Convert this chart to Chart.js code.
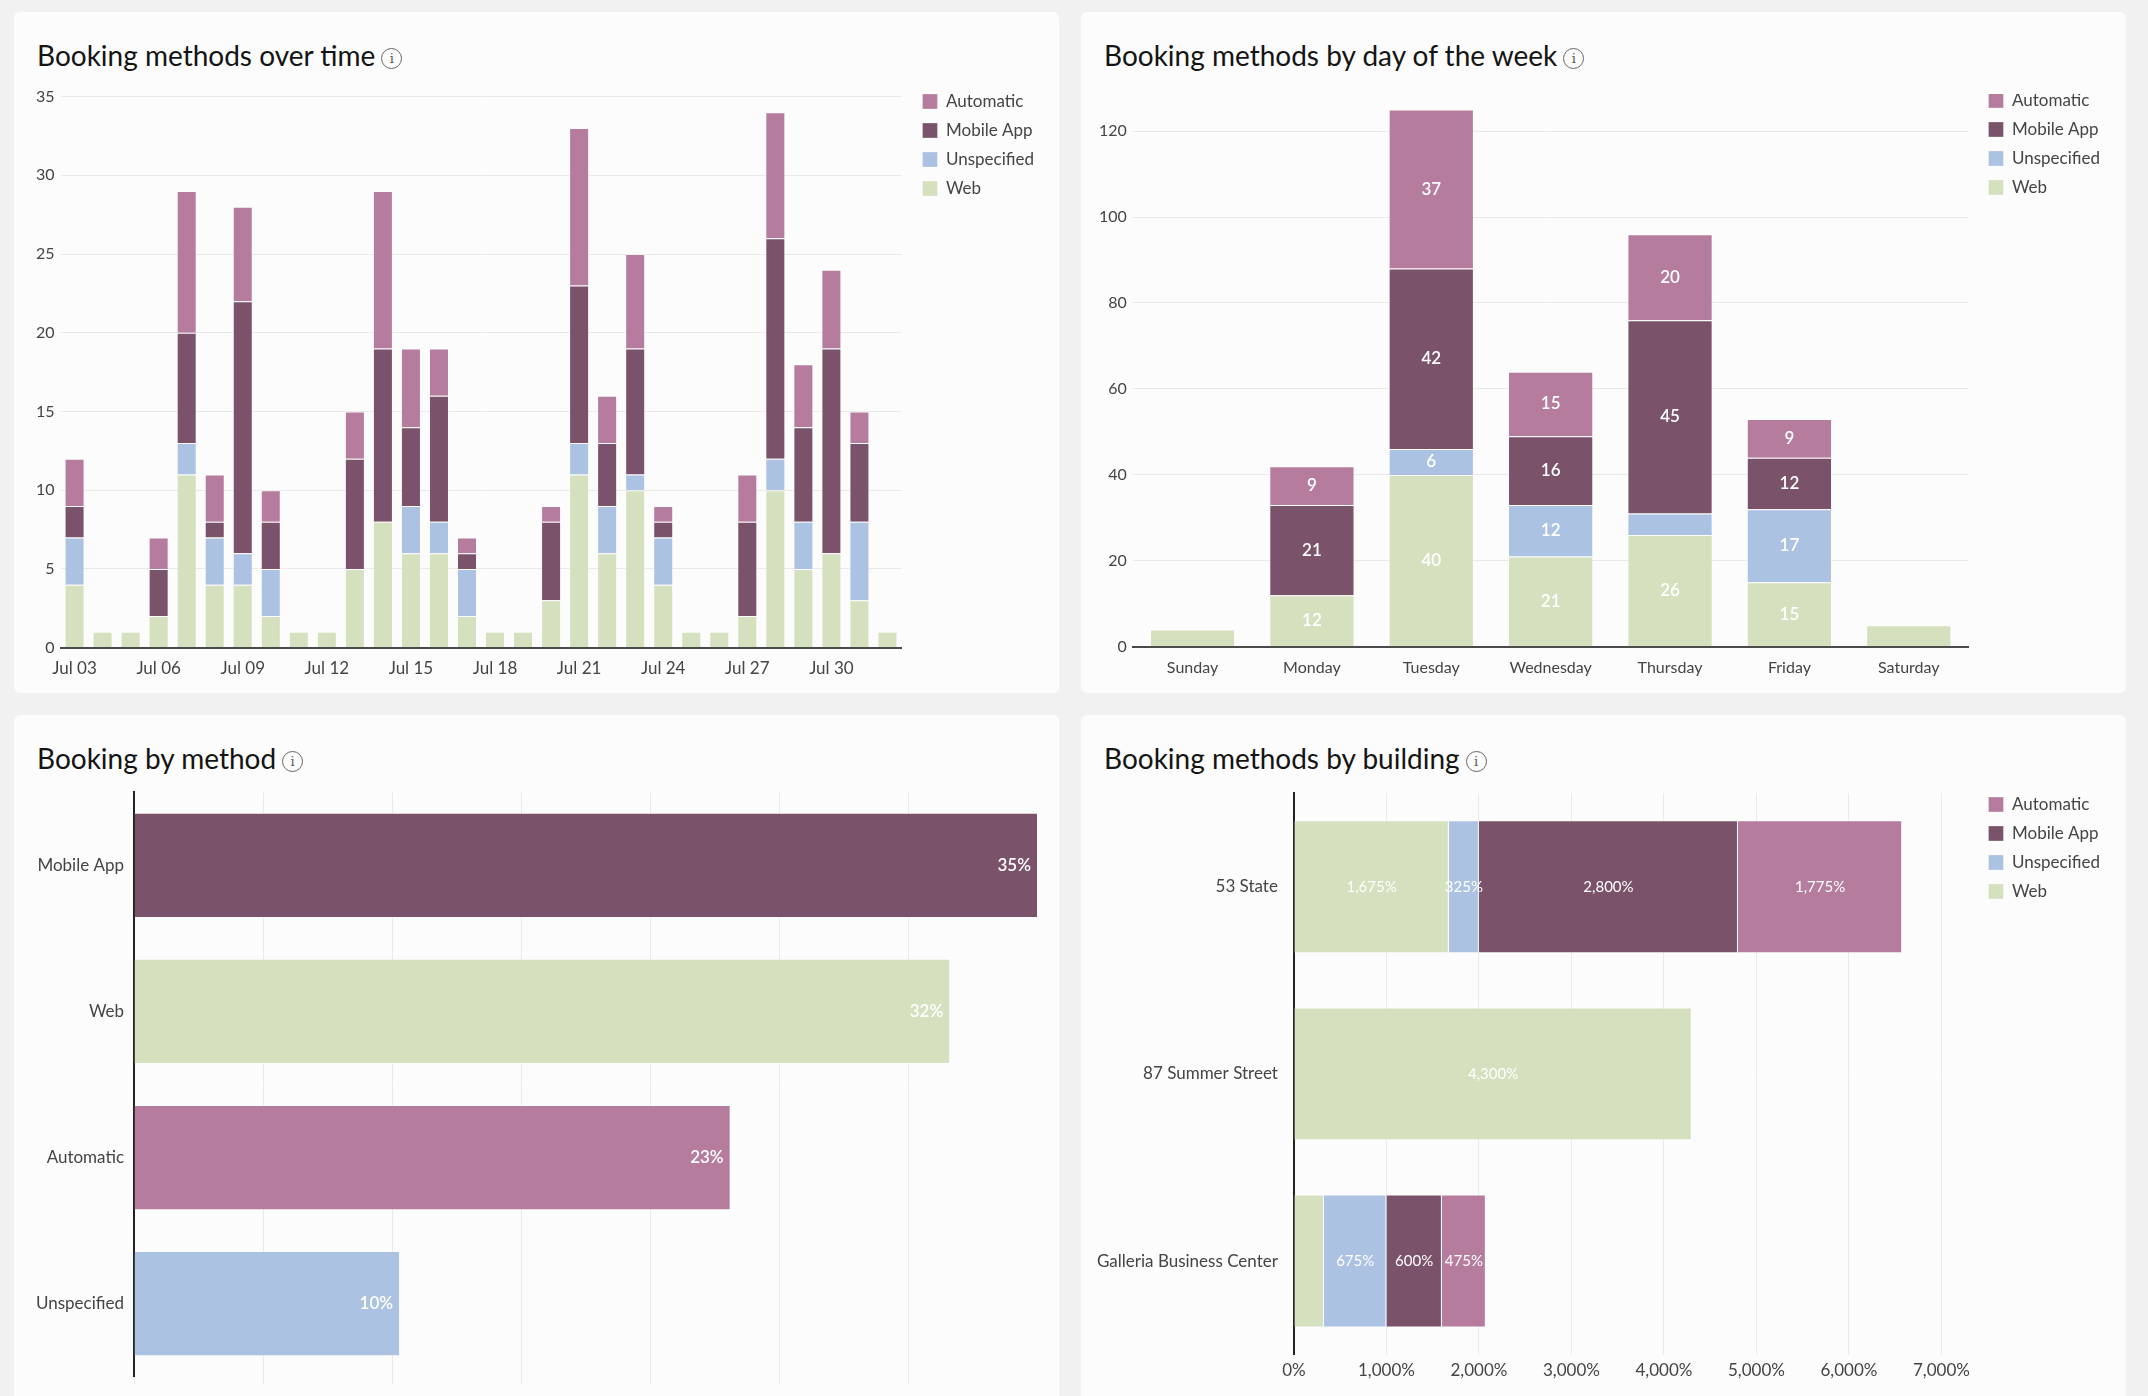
<!DOCTYPE html>
<html lang="en">
<head>
<meta charset="UTF-8">
<title>Booking methods</title>
<script src="https://cdn.jsdelivr.net/npm/chart.js"></script>
<style>
    body {
        margin: 0;
        width: 2148px;
        height: 1396px;
        overflow: hidden;
        position: relative;
        background: #f1f1f1;
        font-family: Lato, "Open Sans", sans-serif;
    }
    .panel {
        position: absolute;
        width: 1045px;
        background: #fcfcfc;
        border-radius: 6px;
    }
    .title {
        position: absolute;
        left: 23px;
        top: 27px;
        font-size: 28px;
        line-height: 32px;
        color: #141414;
        white-space: nowrap;
    }
    .info {
        display: inline-block;
        width: 19px;
        height: 19px;
        margin-left: 6px;
        border: 1.5px solid #666;
        border-radius: 50%;
        font-size: 13px;
        line-height: 19px;
        text-align: center;
        color: #555;
        vertical-align: 3px;
        font-family: "DejaVu Serif", serif;
    }
    .box {
        position: absolute;
    }
</style>
</head>
<body>
    <div class="panel" style="left:14px; top:12px; height:681px;">
        <div class="title">Booking methods over time<span class="info">i</span></div>
        <div class="box" style="left:16px; top:69px; width:1014px; height:601px;"><canvas id="overTime"></canvas></div>
    </div>
    <div class="panel" style="left:1081px; top:12px; height:681px;">
        <div class="title">Booking methods by day of the week<span class="info">i</span></div>
        <div class="box" style="left:12px; top:82px; width:1017px; height:586px;"><canvas id="byDay"></canvas></div>
    </div>
    <div class="panel" style="left:14px; top:715px; height:700px;">
        <div class="title">Booking by method<span class="info">i</span></div>
        <div class="box" style="left:20px; top:65px; width:1004px; height:609px;"><canvas id="byMethod"></canvas></div>
    </div>
    <div class="panel" style="left:1081px; top:715px; height:700px;">
        <div class="title">Booking methods by building<span class="info">i</span></div>
        <div class="box" style="left:8px; top:60px; width:1021px; height:612px;"><canvas id="byBuilding"></canvas></div>
    </div>

<script>
// ---- data ----
const methods = ['Web', 'Unspecified', 'Mobile App', 'Automatic'];
const methodColors = ['#d5e0be', '#acc2e2', '#7a5269', '#b57c9e'];

const days = ['Jul 03', 'Jul 04', 'Jul 05', 'Jul 06', 'Jul 07', 'Jul 08', 'Jul 09', 'Jul 10',
    'Jul 11', 'Jul 12', 'Jul 13', 'Jul 14', 'Jul 15', 'Jul 16', 'Jul 17', 'Jul 18', 'Jul 19',
    'Jul 20', 'Jul 21', 'Jul 22', 'Jul 23', 'Jul 24', 'Jul 25', 'Jul 26', 'Jul 27', 'Jul 28',
    'Jul 29', 'Jul 30', 'Jul 31', 'Aug 01'];
const dailyWeb         = [4, 1, 1, 2, 11, 4, 4, 2, 1, 1, 5, 8, 6, 6, 2, 1, 1, 3, 11, 6, 10, 4, 1, 1, 2, 10, 5, 6, 3, 1];
const dailyUnspecified = [3, 0, 0, 0, 2, 3, 2, 3, 0, 0, 0, 0, 3, 2, 3, 0, 0, 0, 2, 3, 1, 3, 0, 0, 0, 2, 3, 0, 5, 0];
const dailyMobile      = [2, 0, 0, 3, 7, 1, 16, 3, 0, 0, 7, 11, 5, 8, 1, 0, 0, 5, 10, 4, 8, 1, 0, 0, 6, 14, 6, 13, 5, 0];
const dailyAutomatic   = [3, 0, 0, 2, 9, 3, 6, 2, 0, 0, 3, 10, 5, 3, 1, 0, 0, 1, 10, 3, 6, 1, 0, 0, 3, 8, 4, 5, 2, 0];

const weekdays = ['Sunday', 'Monday', 'Tuesday', 'Wednesday', 'Thursday', 'Friday', 'Saturday'];
const weekdayWeb         = [4, 12, 40, 21, 26, 15, 5];
const weekdayUnspecified = [0, 0, 6, 12, 5, 17, 0];
const weekdayMobile      = [0, 21, 42, 16, 45, 12, 0];
const weekdayAutomatic   = [0, 9, 37, 15, 20, 9, 0];

const shareLabels = ['Mobile App', 'Web', 'Automatic', 'Unspecified'];
const shareValues = [35.0, 31.6, 23.1, 10.3];
const shareColors = ['#7a5269', '#d5e0be', '#b57c9e', '#acc2e2'];

const buildings = ['53 State', '87 Summer Street', 'Galleria Business Center'];
const buildingWeb         = [1675, 4300, 325];
const buildingUnspecified = [325, 0, 675];
const buildingMobile      = [2800, 0, 600];
const buildingAutomatic   = [1775, 0, 475];
const buildingHiddenLabels = ['Galleria Business Center|Web'];

// ---- shared styling ----
Chart.defaults.font.family = 'Lato, "Open Sans", sans-serif';
Chart.defaults.color = '#444';
Chart.defaults.animation = false;

const gridColor = '#eaeaea';
const axisColor = '#4a4a4a';
const barEdge = 'rgba(255,255,255,0.3)';

function stackSets(series) {
    return series.map((data, i) => ({
        label: methods[i],
        data: data,
        backgroundColor: methodColors[i],
        borderColor: barEdge,
        borderWidth: 1,
        barPercentage: 0.85,
        categoryPercentage: 0.84
    }));
}

const rightLegend = {
    position: 'right',
    align: 'start',
    reverse: true,
    labels: {
        boxWidth: 15,
        boxHeight: 15,
        padding: 12,
        color: '#444',
        font: { size: 17 }
    }
};

// the chart gives up `gap` px on the right (layout padding) and the legend
// is moved back into that space, so there is more room between bars and legend
function legendShift(gap, dy) {
    return {
        id: 'legendShift',
        afterLayout(chart) {
            const l = chart.legend;
            l.left += gap; l.right += gap;
            l.top += dy; l.bottom += dy;
        }
    };
}

// white value text drawn on each bar segment
function segmentLabels(cfg) {
    return {
        id: 'segmentLabels',
        afterDatasetsDraw(chart) {
            const ctx = chart.ctx;
            ctx.save();
            ctx.font = cfg.font;
            ctx.fillStyle = '#ffffff';
            ctx.textBaseline = 'middle';
            chart.data.datasets.forEach((ds, i) => {
                const meta = chart.getDatasetMeta(i);
                meta.data.forEach((bar, j) => {
                    const v = ds.data[j];
                    if (!cfg.show(v, ds, j)) return;
                    const text = cfg.format(v);
                    if (cfg.anchor === 'end') {
                        ctx.textAlign = 'right';
                        ctx.fillText(text, bar.x - 7, bar.y);
                    } else {
                        const p = bar.getCenterPoint();
                        ctx.textAlign = 'center';
                        ctx.fillText(text, p.x, p.y);
                    }
                });
            });
            ctx.restore();
        }
    };
}

// ---- Booking methods over time ----
new Chart(document.getElementById('overTime'), {
    type: 'bar',
    data: {
        labels: days,
        datasets: stackSets([dailyWeb, dailyUnspecified, dailyMobile, dailyAutomatic])
    },
    options: {
        responsive: true,
        maintainAspectRatio: false,
        layout: { padding: { right: 9 } },
        plugins: { legend: rightLegend, tooltip: { enabled: false } },
        scales: {
            x: {
                stacked: true,
                grid: { display: false },
                border: { color: axisColor, width: 2 },
                ticks: {
                    autoSkip: false,
                    maxRotation: 0,
                    font: { size: 17 },
                    callback: function (v, i) { return i % 3 === 0 ? this.getLabelForValue(v) : ''; }
                }
            },
            y: {
                stacked: true,
                min: 0,
                max: 35,
                grid: { color: gridColor, drawTicks: false },
                border: { display: false },
                ticks: { stepSize: 5, font: { size: 16 }, padding: 6 }
            }
        }
    },
    plugins: [legendShift(9, 0)]
});

// ---- Booking methods by day of the week ----
new Chart(document.getElementById('byDay'), {
    type: 'bar',
    data: {
        labels: weekdays,
        datasets: stackSets([weekdayWeb, weekdayUnspecified, weekdayMobile, weekdayAutomatic])
    },
    options: {
        responsive: true,
        maintainAspectRatio: false,
        layout: { padding: { right: 8 } },
        plugins: { legend: rightLegend, tooltip: { enabled: false } },
        scales: {
            x: {
                stacked: true,
                grid: { display: false },
                border: { color: axisColor, width: 2 },
                ticks: { maxRotation: 0, font: { size: 16 } }
            },
            y: {
                stacked: true,
                min: 0,
                max: 125,
                grid: { color: gridColor, drawTicks: false },
                border: { display: false },
                afterBuildTicks: axis => { axis.ticks = axis.ticks.filter(t => t.value % 20 === 0); },
                ticks: { stepSize: 20, font: { size: 16 }, padding: 6 }
            }
        }
    },
    plugins: [legendShift(8, -14), segmentLabels({
        font: '600 17px Lato, sans-serif',
        show: v => v > 5,
        format: v => String(v)
    })]
});

// ---- Booking by method ----
new Chart(document.getElementById('byMethod'), {
    type: 'bar',
    data: {
        labels: shareLabels,
        datasets: [{
            data: shareValues,
            backgroundColor: shareColors,
            borderColor: barEdge,
            borderWidth: 1,
            barPercentage: 0.72,
            categoryPercentage: 1
        }]
    },
    options: {
        indexAxis: 'y',
        responsive: true,
        maintainAspectRatio: false,
        plugins: { legend: { display: false }, tooltip: { enabled: false } },
        scales: {
            x: {
                min: 0,
                max: 35,
                grid: { color: gridColor },
                border: { display: false },
                ticks: { display: false, stepSize: 5 }
            },
            y: {
                grid: { display: false },
                border: { color: '#222', width: 2 },
                ticks: { font: { size: 17 }, padding: 2 }
            }
        }
    },
    plugins: [segmentLabels({
        font: '600 17px Lato, sans-serif',
        anchor: 'end',
        show: () => true,
        format: v => Math.round(v) + '%'
    })]
});

// ---- Booking methods by building ----
new Chart(document.getElementById('byBuilding'), {
    type: 'bar',
    data: {
        labels: buildings,
        datasets: stackSets([buildingWeb, buildingUnspecified, buildingMobile, buildingAutomatic])
            .map(ds => Object.assign(ds, { barPercentage: 0.71, categoryPercentage: 1 }))
    },
    options: {
        indexAxis: 'y',
        responsive: true,
        maintainAspectRatio: false,
        layout: { padding: { right: 35 } },
        plugins: { legend: rightLegend, tooltip: { enabled: false } },
        scales: {
            x: {
                stacked: true,
                min: 0,
                max: 7000,
                grid: { color: gridColor, drawTicks: false },
                border: { display: false },
                ticks: {
                    stepSize: 1000,
                    padding: 6,
                    font: { size: 17 },
                    callback: v => v.toLocaleString('en-US') + '%'
                }
            },
            y: {
                stacked: true,
                grid: { display: false },
                border: { color: '#222', width: 2 },
                ticks: { font: { size: 17 }, padding: 8 }
            }
        }
    },
    plugins: [legendShift(35, 9), segmentLabels({
        font: '15px Lato, sans-serif',
        show: (v, ds, j) => v > 0 && !buildingHiddenLabels.includes(buildings[j] + '|' + ds.label),
        format: v => v.toLocaleString('en-US') + '%'
    })]
});
</script>
</body>
</html>
